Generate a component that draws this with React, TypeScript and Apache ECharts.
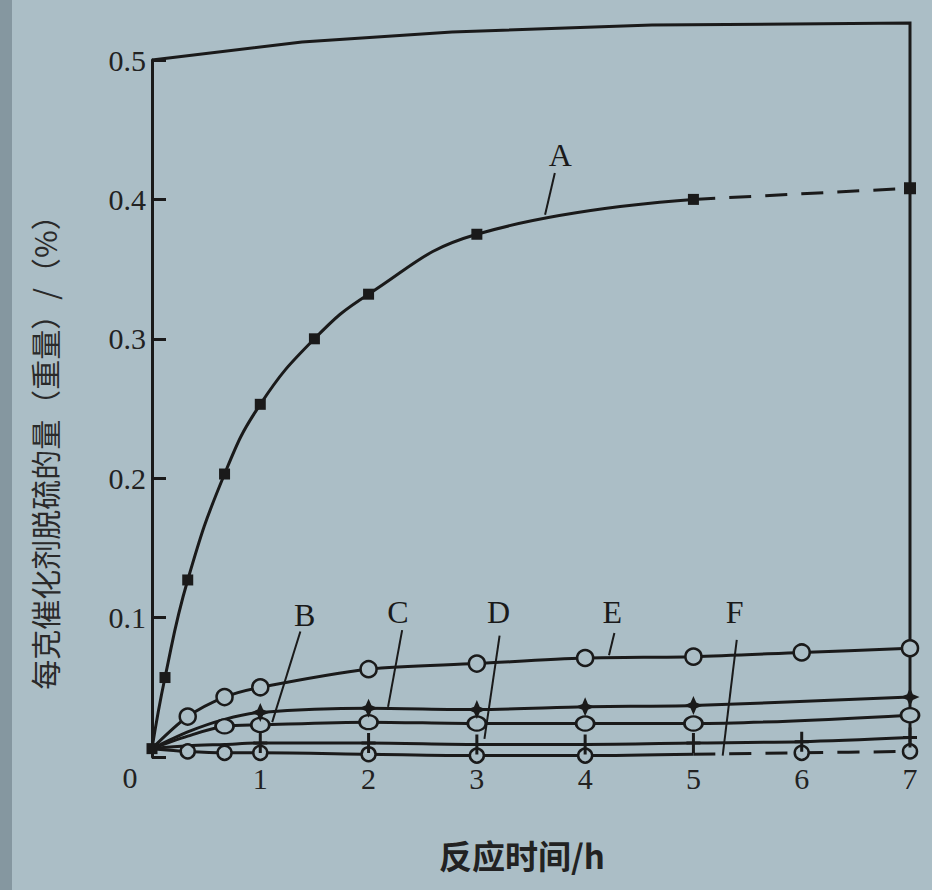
import React, { useEffect, useRef } from 'react';
import * as echarts from 'echarts';

// ---- data (reaction time in h, desulfurisation amount per gram catalyst, %) ----
const xTickValues = [0, 1, 2, 3, 4, 5, 6, 7];
const yTickValues = [0, 0.1, 0.2, 0.3, 0.4, 0.5];

const tA = [0, 0.12, 0.33, 0.67, 1, 1.5, 2, 3, 5];
const vA = [0.006, 0.057, 0.127, 0.203, 0.253, 0.3, 0.332, 0.375, 0.4];
const mA = [1, 1, 1, 1, 1, 1, 1, 1, 1];
const tATail = [5, 7];
const vATail = [0.4, 0.408];
const mATail = [0, 1];

const tB = [0, 0.33, 0.67, 1, 2, 3, 4, 5, 7];
const vB = [0.006, 0.015, 0.022, 0.023, 0.025, 0.024, 0.024, 0.024, 0.03];
const mB = [0, 0, 1, 1, 1, 1, 1, 1, 1];

const tC = [0, 0.33, 0.67, 1, 2, 3, 4, 5, 7];
const vC = [0.006, 0.018, 0.027, 0.032, 0.035, 0.034, 0.036, 0.037, 0.043];
const mC = [0, 0, 0, 1, 1, 1, 1, 1, 1];

const tD = [0, 0.33, 0.67, 1, 2, 3, 4, 5, 6, 7];
const vD = [0.006, 0.008, 0.009, 0.01, 0.01, 0.009, 0.009, 0.01, 0.011, 0.014];
const mD = [0, 0, 0, 1, 1, 1, 1, 1, 1, 1];

const tE = [0, 0.33, 0.67, 1, 2, 3, 4, 5, 6, 7];
const vE = [0.006, 0.029, 0.043, 0.05, 0.063, 0.067, 0.071, 0.072, 0.075, 0.078];
const mE = [0, 1, 1, 1, 1, 1, 1, 1, 1, 1];

const tF = [0, 0.33, 0.67, 1, 2, 3, 4, 5];
const vF = [0.006, 0.004, 0.003, 0.003, 0.002, 0.001, 0.001, 0.002];
const mF = [0, 1, 1, 1, 1, 1, 1, 0];
const tFTail = [5, 6, 7];
const vFTail = [0.002, 0.003, 0.004];
const mFTail = [0, 1, 1];

// curve labels: [name, textX, textY, leaderStartX, leaderStartY, leaderEndX, leaderEndY]
const curveLabels: [string, number, number, number, number, number, number][] = [
  ['A', 3.77, 0.432, 3.72, 0.419, 3.63, 0.389],
  ['B', 1.41, 0.102, 1.37, 0.09, 1.11, 0.025],
  ['C', 2.27, 0.104, 2.31, 0.091, 2.18, 0.036],
  ['D', 3.2, 0.104, 3.21, 0.087, 3.07, 0.013],
  ['E', 4.25, 0.104, 4.27, 0.089, 4.22, 0.073],
  ['F', 5.38, 0.104, 5.4, 0.084, 5.27, 0.001],
];

const xTitle = '反应时间/h';
const yTitle = '每克催化剂脱硫的量（重量）/（%）';

const INK = '#1a1a1a';
const BG = '#abbec6';
const SERIF = '"Liberation Serif", "DejaVu Serif", serif';
const CJK = '"Noto Sans CJK SC", "Noto Sans", sans-serif';

const STAR = 'path://M0,-10 L3,-3 L10,0 L3,3 L0,10 L-3,3 L-10,0 L-3,-3 Z';
const PLUS = 'path://M-1.5,-10 H1.5 V-1.5 H7 V1.5 H1.5 V10 H-1.5 V1.5 H-7 V-1.5 H-1.5 Z';

function mk(ts: number[], vs: number[], marks: number[]) {
  return ts.map((t, i) => (marks[i] ? { value: [t, vs[i]] } : { value: [t, vs[i]], symbol: 'none' }));
}

const openStyle = { color: BG, borderColor: INK, borderWidth: 2.5 };
const filledStyle = { color: INK, borderColor: INK, borderWidth: 0 };

function line(name: string, data: any[], symbol: string, size: any, itemStyle: any, dashed = false, smooth = 0.3) {
  return {
    name,
    type: 'line',
    data,
    smooth,
    symbol,
    symbolSize: size,
    showAllSymbol: true,
    itemStyle,
    lineStyle: { color: INK, width: 3, type: dashed ? [22, 14] : 'solid' },
    silent: true,
  };
}

export default function App() {
  const ref = useRef<HTMLDivElement>(null);

  useEffect(() => {
    document.body.style.margin = '0';
    const chart = echarts.init(ref.current!, null, { renderer: 'svg' });

    const option: any = {
      animation: false,
      backgroundColor: BG,
      grid: { left: 152, right: 22, top: 60, bottom: 133, containLabel: false },
      xAxis: {
        type: 'value',
        min: xTickValues[0],
        max: xTickValues[xTickValues.length - 1],
        interval: 1,
        axisLine: { show: false },
        axisTick: { show: false },
        splitLine: { show: false },
        axisLabel: {
          margin: 6,
          fontFamily: SERIF,
          fontSize: 30,
          color: '#222',
          formatter: (v: number) => (v === 0 ? '' : String(v)),
        },
      },
      yAxis: {
        type: 'value',
        min: yTickValues[0],
        max: yTickValues[yTickValues.length - 1],
        interval: 0.1,
        axisLine: { show: true, lineStyle: { color: INK, width: 3 } },
        axisTick: { show: true, inside: true, length: 14, lineStyle: { color: INK, width: 3 } },
        splitLine: { show: false },
        axisLabel: {
          margin: 6,
          fontFamily: SERIF,
          fontSize: 30,
          color: '#222',
          formatter: (v: number) => (v === 0 ? '' : v.toFixed(1)),
        },
      },
      series: [
        line('A', mk(tA, vA, mA), 'rect', 11, filledStyle, false, 0.45),
        line('A-tail', mk(tATail, vATail, mATail), 'rect', 12, filledStyle, true),
        line('F', mk(tF, vF, mF), 'circle', 14, openStyle),
        line('F-tail', mk(tFTail, vFTail, mFTail), 'circle', 14, openStyle, true),
        line('D', mk(tD, vD, mD), PLUS, [14, 20], filledStyle),
        line('B', mk(tB, vB, mB), 'circle', [18, 14], openStyle),
        line('C', mk(tC, vC, mC), STAR, 19, filledStyle),
        line('E', mk(tE, vE, mE), 'circle', 16, openStyle),
      ],
    };
    chart.setOption(option);

    const px = (x: number, y: number) => chart.convertToPixel({ gridIndex: 0 }, [x, y]) as number[];
    const [x0, y0] = px(0, 0);
    const [x7, yTop] = px(7, 0.5);

    const graphics: any[] = [
      { type: 'rect', shape: { x: 0, y: 0, width: 12, height: 890 }, style: { fill: '#8597a0' }, silent: true },
      {
        type: 'polyline',
        shape: {
          points: [
            [x0, yTop],
            [x0 + 150, yTop - 18],
            [x0 + 300, yTop - 28],
            [x0 + 500, yTop - 35],
            [x7, yTop - 37],
            [x7, y0],
          ],
        },
        style: { stroke: INK, lineWidth: 3, fill: null },
        silent: true,
      },
      {
        type: 'text',
        x: 130,
        y: 777,
        style: { text: '0', font: `30px ${SERIF}`, fill: '#222', textAlign: 'center', textVerticalAlign: 'middle' },
        silent: true,
      },
      {
        type: 'text',
        x: 522,
        y: 855,
        style: { text: xTitle, font: `bold 33px ${CJK}`, fill: '#222', textAlign: 'center', textVerticalAlign: 'middle' },
        silent: true,
      },
      {
        type: 'text',
        x: 44,
        y: 445,
        rotation: Math.PI / 2,
        style: { text: yTitle, font: `30px ${CJK}`, fill: '#2a2a2a', textAlign: 'center', textVerticalAlign: 'middle' },
        silent: true,
      },
    ];

    curveLabels.forEach(([name, tx, ty, sx, sy, ex, ey]) => {
      const t = px(tx, ty);
      const s = px(sx, sy);
      const e = px(ex, ey);
      graphics.push({
        type: 'text',
        x: t[0],
        y: t[1],
        style: { text: name, font: `32px ${SERIF}`, fill: INK, textAlign: 'center', textVerticalAlign: 'middle' },
        silent: true,
      });
      graphics.push({
        type: 'line',
        shape: { x1: s[0], y1: s[1], x2: e[0], y2: e[1] },
        style: { stroke: INK, lineWidth: 2 },
        silent: true,
      });
    });

    chart.setOption({ graphic: graphics });

    return () => chart.dispose();
  }, []);

  return <div ref={ref} style={{ width: 932, height: 890 }} />;
}
